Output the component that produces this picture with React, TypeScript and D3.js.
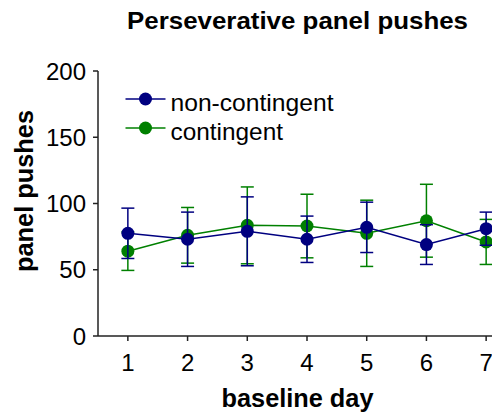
import * as d3 from "d3";

const days = [1, 2, 3, 4, 5, 6, 7];
const nonContingent = [77.5, 73, 79, 73, 82, 69, 81];
const nonContingentErr = [19, 20.5, 26, 17.5, 19, 15, 12.5];
const contingent = [64, 76, 83.5, 83, 77.5, 87, 71];
const contingentErr = [14.5, 21, 29, 24, 25, 27.5, 17];
const yTicks = [0, 50, 100, 150, 200];

const W = 492;
const H = 417;
const font = "'Liberation Sans', Arial, sans-serif";

const series = [
  { name: "contingent", color: "#008000", values: contingent, err: contingentErr },
  { name: "non-contingent", color: "#000080", values: nonContingent, err: nonContingentErr },
];

export default function App() {
  const x = d3.scaleLinear().domain([0.5, 7.5]).range([98, 516]);
  const y = d3.scaleLinear().domain([0, 200]).range([336, 71]);
  const line = d3
    .line<number>()
    .x((_, i) => x(days[i]))
    .y((d) => y(d));

  const axisColor = "#222";

  return (
    <svg
      width={W}
      height={H}
      style={{ position: "absolute", left: 0, top: 0, background: "#fff" }}
      fontFamily={font}
    >
      {/* title */}
      <text x={297.5} y={28.5} textAnchor="middle" fontWeight="bold" fontSize={24} textLength={341} lengthAdjust="spacingAndGlyphs">
        Perseverative panel pushes
      </text>

      {/* y axis */}
      <line x1={x(0.5)} x2={x(0.5)} y1={y(200)} y2={y(0)} stroke={axisColor} strokeWidth={1.5} />
      {yTicks.map((t) => (
        <g key={t}>
          <line x1={x(0.5) - 5} x2={x(0.5)} y1={y(t)} y2={y(t)} stroke={axisColor} strokeWidth={1.5} />
          <text x={86} y={y(t)} dy="0.36em" textAnchor="end" fontSize={24}>
            {t}
          </text>
        </g>
      ))}

      {/* x axis */}
      <line x1={x(0.5)} x2={W} y1={y(0)} y2={y(0)} stroke={axisColor} strokeWidth={1.5} />
      {days.map((d) => (
        <g key={d}>
          <line x1={x(d)} x2={x(d)} y1={y(0)} y2={y(0) + 5} stroke={axisColor} strokeWidth={1.5} />
          <text x={x(d)} y={371} textAnchor="middle" fontSize={24}>
            {d}
          </text>
        </g>
      ))}

      <text x={297.5} y={406.5} textAnchor="middle" fontWeight="bold" fontSize={25} textLength={152} lengthAdjust="spacingAndGlyphs">
        baseline day
      </text>
      <text
        transform={`translate(33,191) rotate(-90)`}
        textAnchor="middle"
        fontWeight="bold"
        fontSize={25}
        textLength={162}
        lengthAdjust="spacingAndGlyphs"
      >
        panel pushes
      </text>

      {/* series */}
      {series.map((s) => (
        <g key={s.name}>
          <path d={line(s.values) ?? ""} fill="none" stroke={s.color} strokeWidth={1.5} />
          {s.values.map((v, i) => (
            <g key={i} stroke={s.color} strokeWidth={1.5}>
              <line x1={x(days[i])} x2={x(days[i])} y1={y(v - s.err[i])} y2={y(v + s.err[i])} />
              <line x1={x(days[i]) - 6.5} x2={x(days[i]) + 6.5} y1={y(v + s.err[i])} y2={y(v + s.err[i])} />
              <line x1={x(days[i]) - 6.5} x2={x(days[i]) + 6.5} y1={y(v - s.err[i])} y2={y(v - s.err[i])} />
            </g>
          ))}
          {s.values.map((v, i) => (
            <circle key={i} cx={x(days[i])} cy={y(v)} r={6.5} fill={s.color} />
          ))}
        </g>
      ))}

      {/* legend */}
      {[series[1], series[0]].map((s, i) => (
        <g key={s.name} transform={`translate(0,${99 + i * 29})`}>
          <line x1={125.5} x2={165.5} y1={0} y2={0} stroke={s.color} strokeWidth={1.5} />
          <circle cx={145.5} cy={0} r={6.5} fill={s.color} />
          <text
            x={170.5}
            y={12}
            fontSize={24}
            textLength={s.name === "contingent" ? 112.5 : 163}
            lengthAdjust="spacingAndGlyphs"
          >
            {s.name}
          </text>
        </g>
      ))}
    </svg>
  );
}
